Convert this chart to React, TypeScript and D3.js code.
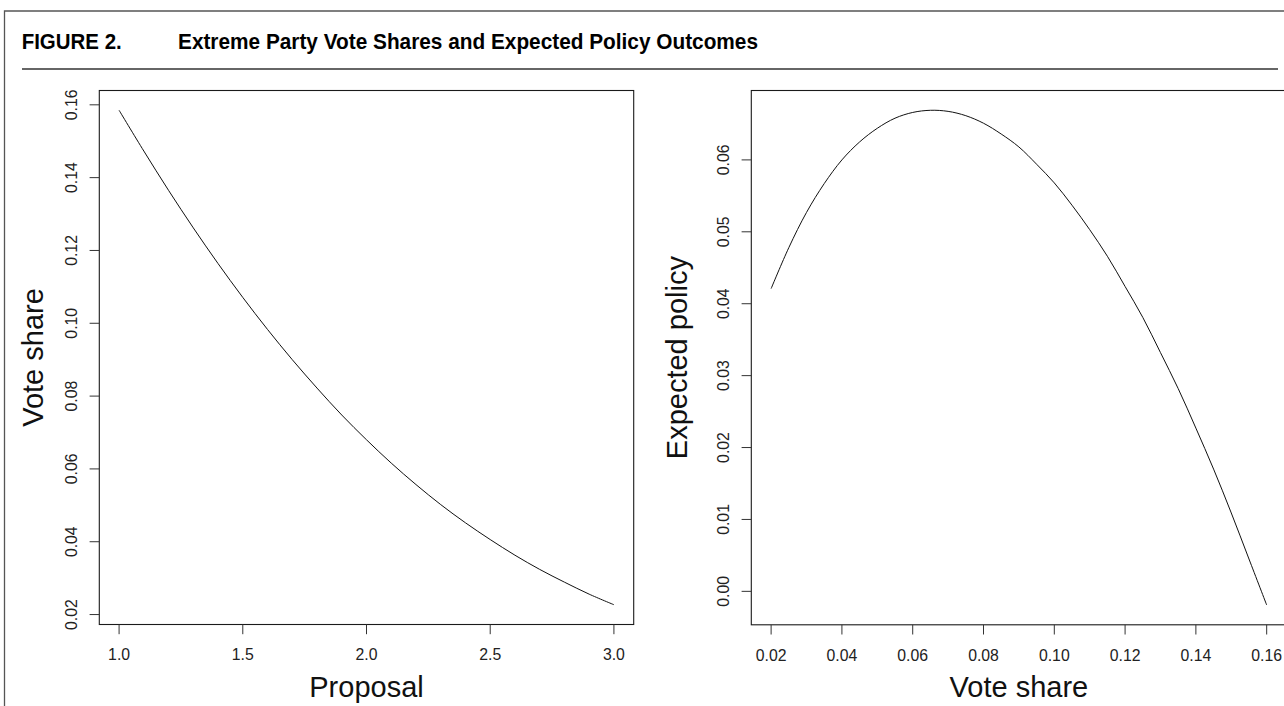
import React from "react";
import * as d3 from "d3";

// ---- Data ----
const proposal = [1.0, 1.1, 1.2, 1.3, 1.4, 1.5, 1.6, 1.7, 1.8, 1.9, 2.0, 2.1, 2.2, 2.3, 2.4, 2.5, 2.6, 2.7, 2.8, 2.9, 3.0];
const voteShareByProposal = [0.1585, 0.1473, 0.1365, 0.1262, 0.1164, 0.1071, 0.0983, 0.09, 0.0822, 0.0748, 0.068, 0.0616, 0.0557, 0.0502, 0.0452, 0.0406, 0.0363, 0.0324, 0.0289, 0.0256, 0.0227];

const voteShare = [0.02, 0.025, 0.03, 0.035, 0.04, 0.045, 0.05, 0.055, 0.06, 0.065, 0.07, 0.075, 0.08, 0.085, 0.09, 0.095, 0.1, 0.105, 0.11, 0.115, 0.12, 0.125, 0.13, 0.135, 0.14, 0.145, 0.15, 0.155, 0.16];
const expectedPolicy = [0.0421, 0.0478, 0.0527, 0.0567, 0.06, 0.0625, 0.0644, 0.0658, 0.0666, 0.0669, 0.06675, 0.06615, 0.0651, 0.0636, 0.0618, 0.0594, 0.0568, 0.0537, 0.0503, 0.0466, 0.0424, 0.0381, 0.0332, 0.0282, 0.0227, 0.017, 0.0109, 0.0045, -0.0019];

const leftXTicks = [1.0, 1.5, 2.0, 2.5, 3.0];
const leftYTicks = [0.02, 0.04, 0.06, 0.08, 0.1, 0.12, 0.14, 0.16];
const rightXTicks = [0.02, 0.04, 0.06, 0.08, 0.1, 0.12, 0.14, 0.16];
const rightYTicks = [0.0, 0.01, 0.02, 0.03, 0.04, 0.05, 0.06];

const titleLabel = "FIGURE 2.";
const titleText = "Extreme Party Vote Shares and Expected Policy Outcomes";

const W = 1284;
const H = 706;
const FONT = "'Liberation Sans', Arial, Helvetica, sans-serif";

function padded(vals: number[]): [number, number] {
  const [lo, hi] = d3.extent(vals) as [number, number];
  const r = hi - lo;
  return [lo - 0.04 * r, hi + 0.04 * r];
}

type PanelProps = {
  xs: number[];
  ys: number[];
  xTicks: number[];
  yTicks: number[];
  xFmt: (v: number) => string;
  yFmt: (v: number) => string;
  left: number;
  right: number;
  top: number;
  bottom: number;
  xTitle: string;
  yTitle: string;
  yTitleX: number;
};

function Panel(p: PanelProps) {
  const x = d3.scaleLinear().domain(padded(p.xs)).range([p.left, p.right]);
  const y = d3.scaleLinear().domain(padded(p.ys)).range([p.bottom, p.top]);
  const pts = p.xs.map((v, i) => [v, p.ys[i]] as [number, number]);
  const line = d3
    .line<[number, number]>()
    .x((d) => x(d[0]))
    .y((d) => y(d[1]))
    .curve(d3.curveCatmullRom.alpha(0.5));
  const cx = (p.left + p.right) / 2;
  const cy = (p.top + p.bottom) / 2;
  return (
    <g>
      <rect
        x={p.left}
        y={p.top}
        width={p.right - p.left}
        height={p.bottom - p.top}
        fill="none"
        stroke="#1a1a1a"
        strokeWidth={1.1}
      />
      <path d={line(pts) || ""} fill="none" stroke="#111" strokeWidth={1} />
      {p.xTicks.map((t) => (
        <g key={"x" + t}>
          <line x1={x(t)} x2={x(t)} y1={p.bottom} y2={p.bottom + 9.7} stroke="#333" strokeWidth={1} />
          <text x={x(t)} y={p.bottom + 35.7} textAnchor="middle" fontSize={15.8} fontFamily={FONT} fill="#222">
            {p.xFmt(t)}
          </text>
        </g>
      ))}
      {p.yTicks.map((t) => (
        <g key={"y" + t}>
          <line x1={p.left - 9.7} x2={p.left} y1={y(t)} y2={y(t)} stroke="#333" strokeWidth={1} />
          <text
            transform={`translate(${p.left - 22},${y(t)}) rotate(-90)`}
            textAnchor="middle"
            fontSize={15.8}
            fontFamily={FONT}
            fill="#222"
          >
            {p.yFmt(t)}
          </text>
        </g>
      ))}
      <text x={cx} y={697} textAnchor="middle" fontSize={29} fontFamily={FONT} fill="#111">
        {p.xTitle}
      </text>
      <text
        transform={`translate(${p.yTitleX},${cy}) rotate(-90)`}
        textAnchor="middle"
        fontSize={29}
        fontFamily={FONT}
        fill="#111"
      >
        {p.yTitle}
      </text>
    </g>
  );
}

export default function App() {
  return (
    <svg
      width={W}
      height={H}
      viewBox={`0 0 ${W} ${H}`}
      style={{ position: "absolute", left: 0, top: 0, background: "#fff", display: "block" }}
    >
      <rect x={0} y={0} width={W} height={H} fill="#fff" />
      <path d={`M ${W + 10} 11 H 4.5 V ${H + 10}`} fill="none" stroke="#555" strokeWidth={1.3} />
      <text
        x={21.7}
        y={49}
        fontSize={22}
        fontWeight="bold"
        fontFamily={FONT}
        fill="#000"
        textLength={100}
        lengthAdjust="spacingAndGlyphs"
      >
        {titleLabel}
      </text>
      <text
        x={178}
        y={49}
        fontSize={22}
        fontWeight="bold"
        fontFamily={FONT}
        fill="#000"
        textLength={580}
        lengthAdjust="spacingAndGlyphs"
      >
        {titleText}
      </text>
      <line x1={22} x2={1278} y1={69} y2={69} stroke="#333" strokeWidth={1.6} />
      <Panel
        xs={proposal}
        ys={voteShareByProposal}
        xTicks={leftXTicks}
        yTicks={leftYTicks}
        xFmt={d3.format(".1f")}
        yFmt={d3.format(".2f")}
        left={99.3}
        right={633.7}
        top={90.5}
        bottom={624.5}
        xTitle="Proposal"
        yTitle="Vote share"
        yTitleX={43}
      />
      <Panel
        xs={voteShare}
        ys={expectedPolicy}
        xTicks={rightXTicks}
        yTicks={rightYTicks}
        xFmt={d3.format(".2f")}
        yFmt={d3.format(".2f")}
        left={751.3}
        right={1286.5}
        top={90.5}
        bottom={624.8}
        xTitle="Vote share"
        yTitle="Expected policy"
        yTitleX={687}
      />
    </svg>
  );
}
